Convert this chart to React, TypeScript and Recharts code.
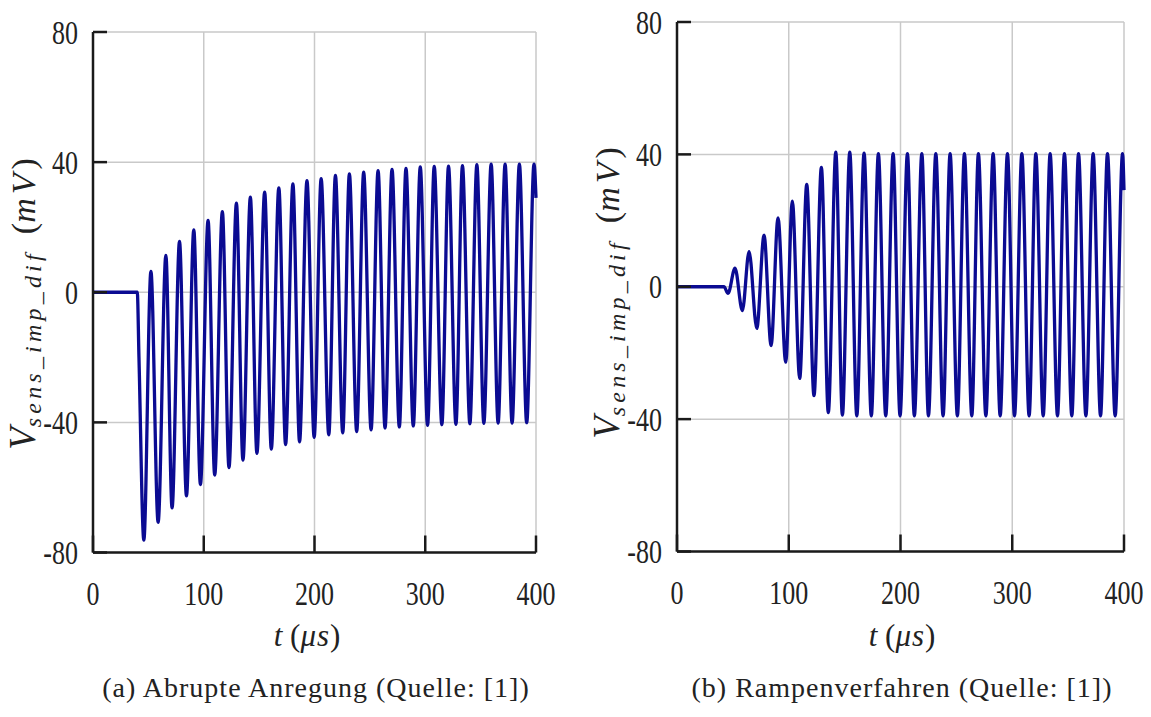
import React from "react";
import { LineChart, Line, XAxis, YAxis, CartesianGrid } from "recharts";

const timeTicks = [0, 100, 200, 300, 400];
const voltTicks = [-80, -40, 0, 40, 80];

// (a) abrupt excitation
const leadA_t = [0, 40, 41.5];
const leadA_v = [0, 0, -20];
const troughA_t = [45.9, 58.8, 71.4, 84.4, 97.0, 109.9, 122.8, 135.4, 148.0, 161.0, 173.9, 186.5, 199.7, 212.9, 225.5, 238.1, 251.1, 263.7, 276.6, 289.2, 302.1, 315.0, 327.7, 340.3, 352.9, 365.8, 378.4, 391.6];
const troughA_v = [-76.2, -70.7, -66.3, -62.6, -59.1, -56.2, -53.9, -51.6, -49.5, -48.2, -46.8, -46.0, -44.6, -43.8, -43.2, -42.8, -42.3, -41.7, -41.4, -41.1, -40.9, -40.7, -40.6, -40.4, -40.3, -40.2, -40.2, -40.1];
const peakA_t = [52.3, 65.8, 78.1, 91.0, 103.9, 116.8, 129.5, 142.1, 155.0, 167.8, 180.5, 193.2, 206.0, 218.9, 231.5, 244.4, 257.4, 270.0, 282.6, 295.5, 308.1, 321.0, 333.6, 346.6, 359.5, 372.1, 385.0, 398.2];
const peakA_v = [6.4, 11.3, 15.6, 19.2, 22.1, 24.8, 27.4, 29.2, 30.8, 32.1, 33.3, 34.3, 34.9, 35.9, 36.4, 36.9, 37.4, 37.8, 38.1, 38.5, 38.7, 38.8, 38.9, 39.2, 39.4, 39.4, 39.4, 39.4];
const tailA_t = [400];
const tailA_v = [29];

// (b) ramp excitation
const leadB_t = [0, 42];
const leadB_v = [0, 0];
const troughB_t = [45.7, 58.5, 71.4, 84.2, 97.3, 109.8, 122.6, 135.4, 148.0, 160.9, 173.9, 186.8, 199.6, 212.4, 225.0, 238.1, 250.9, 263.8, 276.4, 289.2, 302.0, 315.1, 327.7, 340.5, 353.3, 365.9, 379.0, 392.1];
const troughB_v = [-2, -7.2, -12.6, -17.8, -22.8, -27.7, -32.9, -38.0, -38.8, -39.0, -39.0, -39.0, -39.0, -39.0, -39.0, -39.0, -39.0, -39.0, -39.0, -39.0, -39.0, -39.0, -39.0, -39.0, -39.0, -39.0, -39.0, -39.0];
const peakB_t = [51.9, 64.5, 77.9, 90.4, 103.2, 116.1, 129.2, 142.1, 154.6, 167.4, 180.2, 193.4, 206.2, 219.1, 231.6, 244.4, 257.2, 269.7, 282.9, 295.7, 308.6, 321.1, 333.9, 346.7, 359.3, 372.4, 385.2, 398.7];
const peakB_v = [5.6, 10.6, 15.6, 20.8, 25.9, 30.9, 36.1, 40.7, 40.7, 40.4, 40.2, 40.2, 40.2, 40.2, 40.2, 40.2, 40.2, 40.2, 40.2, 40.2, 40.2, 40.2, 40.2, 40.2, 40.2, 40.2, 40.2, 40.2];
const tailB_t = [400];
const tailB_v = [29.2];

type Pt = { t: number; v: number };

function series(...parts: [number[], number[]][]): Pt[] {
  const pts: Pt[] = [];
  parts.forEach(([ts, vs]) => ts.forEach((t, i) => pts.push({ t, v: vs[i] })));
  return pts.sort((a, b) => a.t - b.t);
}

const dataA = series([leadA_t, leadA_v], [troughA_t, troughA_v], [peakA_t, peakA_v], [tailA_t, tailA_v]);
const dataB = series([leadB_t, leadB_v], [troughB_t, troughB_v], [peakB_t, peakB_v], [tailB_t, tailB_v]);

const FONT = "'Liberation Serif', 'Times New Roman', serif";
const AXIS = "#1a1a1a";
const GRID = "#c9c9c9";
const WAVE = "#0b0b92";

// ticks point inward, labels sit outside the frame
const YTick = (props: any) => {
  const { x, y, payload } = props;
  return (
    <g>
      <line x1={x} x2={x + 14} y1={y} y2={y} stroke={AXIS} strokeWidth={2.5} />
      <text
        transform={`translate(${x - 15},${y}) scale(1,1.3)`}
        textAnchor="end"
        dy="0.34em"
        fontSize={26}
        fontFamily={FONT}
        fill="#222"
      >
        {payload.value}
      </text>
    </g>
  );
};

const XTick = (props: any) => {
  const { x, y, payload } = props;
  return (
    <g>
      <line x1={x} x2={x} y1={y} y2={y - 17} stroke={AXIS} strokeWidth={2.5} />
      <text
        transform={`translate(${x},${y + 52}) scale(1,1.3)`}
        textAnchor="middle"
        fontSize={26}
        fontFamily={FONT}
        fill="#222"
      >
        {payload.value}
      </text>
    </g>
  );
};

function Panel({ data, left, top, margin, xAxisHeight }: any) {
  return (
    <div style={{ position: "absolute", left, top }}>
      <LineChart width={560} height={620} data={data} margin={margin}>
        <CartesianGrid stroke={GRID} strokeWidth={1.5} />
        <XAxis
          dataKey="t"
          type="number"
          domain={[0, 400]}
          ticks={timeTicks}
          interval={0}
          height={xAxisHeight}
          tickSize={0}
          tickMargin={0}
          tickLine={false}
          axisLine={{ stroke: AXIS, strokeWidth: 2.5 }}
          tick={<XTick />}
        />
        <YAxis
          type="number"
          domain={[-80, 80]}
          ticks={voltTicks}
          interval={0}
          width={80}
          tickSize={0}
          tickMargin={0}
          tickLine={false}
          axisLine={{ stroke: AXIS, strokeWidth: 2.5 }}
          tick={<YTick />}
        />
        <Line
          dataKey="v"
          type="monotone"
          stroke={WAVE}
          strokeWidth={3.3}
          dot={false}
          isAnimationActive={false}
        />
      </LineChart>
    </div>
  );
}

function YTitle({ x, y }: { x: number; y: number }) {
  return (
    <text
      transform={`translate(${x},${y}) rotate(-90)`}
      textAnchor="middle"
      fontFamily={FONT}
      fill="#222"
      fontSize={37}
    >
      <tspan fontStyle="italic">V</tspan>
      <tspan fontStyle="italic" fontSize={24} dy={6} letterSpacing={4.2}>
        sens_imp_dif
      </tspan>
      <tspan dy={-6} dx={16} fontSize={34}>(</tspan>
      <tspan fontStyle="italic" fontSize={34} letterSpacing={4}>mV</tspan>
      <tspan fontSize={34}>)</tspan>
    </text>
  );
}

function XTitle({ x, y }: { x: number; y: number }) {
  return (
    <text x={x} y={y} textAnchor="middle" fontFamily={FONT} fill="#222" fontSize={31}>
      <tspan fontStyle="italic">t</tspan>
      <tspan> (</tspan>
      <tspan fontStyle="italic" letterSpacing={1}>μs</tspan>
      <tspan>)</tspan>
    </text>
  );
}

export default function App() {
  return (
    <div
      style={{
        position: "absolute",
        left: 0,
        top: 0,
        width: 1151,
        height: 717,
        background: "#fff",
        overflow: "hidden",
      }}
    >
      <Panel data={dataA} left={0} top={0} margin={{ top: 32, right: 24, left: 13, bottom: 0 }} xAxisHeight={67.5} />
      <Panel data={dataB} left={585} top={0} margin={{ top: 22, right: 21, left: 12, bottom: 0 }} xAxisHeight={68.5} />
      <svg
        width={1151}
        height={717}
        style={{ position: "absolute", left: 0, top: 0, pointerEvents: "none" }}
      >
        <YTitle x={35} y={304} />
        <YTitle x={619} y={293} />
        <XTitle x={307} y={646} />
        <XTitle x={902} y={646} />
        <text x={316} y={697} textAnchor="middle" fontFamily={FONT} fontSize={28} letterSpacing={1} fill="#222">
          (a) Abrupte Anregung (Quelle: [1])
        </text>
        <text x={902} y={697} textAnchor="middle" fontFamily={FONT} fontSize={28} letterSpacing={1} fill="#222">
          (b) Rampenverfahren (Quelle: [1])
        </text>
      </svg>
    </div>
  );
}
